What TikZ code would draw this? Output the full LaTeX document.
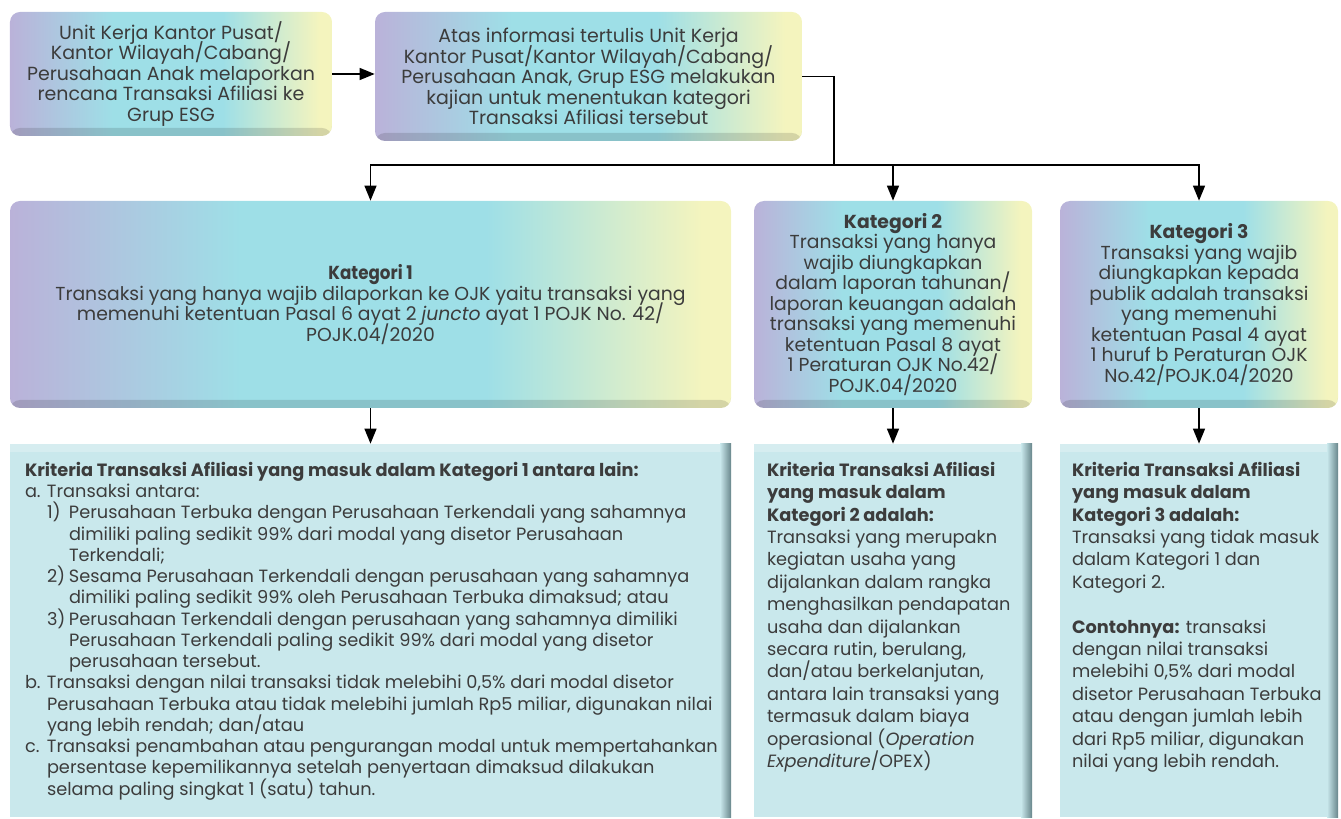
\documentclass[tikz,border=0pt]{standalone}
\usepackage{fontspec}
\setmainfont{Poppins}
\newfontfamily\narrowfont[FakeStretch=0.89]{Poppins}
\usetikzlibrary{
    arrows.meta,
    positioning,
    calc
}
\definecolor{esgpurple}{RGB}{186, 178, 217}
\definecolor{esgcyan}{RGB}{158, 223, 231}
\definecolor{esgyellow}{RGB}{244, 244, 190}
\definecolor{critfill}{RGB}{201, 232, 236}
\definecolor{critedge}{RGB}{104, 134, 139}
\definecolor{textgray}{RGB}{60, 60, 60}
\pgfdeclarehorizontalshading{esgshade}{100bp}{
    color(0bp)=(esgpurple); color(25bp)=(esgpurple); color(41bp)=(esgcyan);
    color(58bp)=(esgcyan); color(73bp)=(esgyellow); color(100bp)=(esgyellow)}
\newcommand{\critlbl}[1]{\makebox[0.44cm][l]{#1}}
\newcommand{\critind}{\hspace*{0.44cm}}
\lineskiplimit=-20pt

\begin{document}
\begin{tikzpicture}[
        font=\fontsize{10.8}{11.67}\selectfont,
        text=textgray,
        katbox/.style={rounded corners=0.2cm, shading=esgshade, align=center, inner sep=0pt,
            path picture={\fill[black, opacity=0.13] (path picture bounding box.south west)
                rectangle ([yshift=0.16cm]path picture bounding box.south east);}},
        critbox/.style={fill=critfill, inner sep=0pt,
            path picture={
                \fill[white, opacity=0.25] (path picture bounding box.north west)
                    rectangle ([yshift=-0.16cm]path picture bounding box.north east);
                \shade[left color=critfill, right color=critedge]
                    ([xshift=-0.22cm]path picture bounding box.north east)
                    rectangle (path picture bounding box.south east);}},
        crittext/.style={anchor=north west, align=left, inner sep=0pt},
        arrow/.style={-{Triangle[width=0.24cm, length=0.3cm]}, line width=0.75pt, draw=black}
    ]
        \useasboundingbox (0,0) rectangle (26.82,16.36);

        % Reporting flow
        \node[katbox, minimum width=6.44cm, minimum height=2.48cm] (lapor) at (3.42,14.88)
            {Unit Kerja Kantor Pusat/\\Kantor Wilayah/Cabang/\\Perusahaan Anak melaporkan\\rencana Transaksi Afiliasi ke\\Grup ESG};
        \node[katbox, minimum width=8.54cm, minimum height=2.58cm] (kajian) at (11.77,14.83)
            {Atas informasi tertulis Unit Kerja\\Kantor Pusat/Kantor Wilayah/Cabang/\\Perusahaan Anak, Grup ESG melakukan\\kajian untuk menentukan kategori\\Transaksi Afiliasi tersebut};

        % Categories
        \node[katbox, minimum width=14.42cm, minimum height=4.14cm, font=\fontsize{10.7}{11.67}\selectfont] (kat1) at (7.41,10.27)
            {\narrowfont\textbf{Kategori 1}\\Transaksi yang hanya wajib dilaporkan ke OJK yaitu transaksi yang\\memenuhi ketentuan Pasal 6 ayat 2 \textit{juncto} ayat 1 POJK No. 42/\\POJK.04/2020};
        \node[katbox, minimum width=5.56cm, minimum height=4.14cm, font=\fontsize{10.7}{11.67}\selectfont] (kat2) at (17.86,10.27)
            {\textbf{Kategori 2}\\Transaksi yang hanya\\wajib diungkapkan\\dalam laporan tahunan/\\laporan keuangan adalah\\transaksi yang memenuhi\\ketentuan Pasal 8 ayat\\1 Peraturan OJK No.42/\\POJK.04/2020};
        \node[katbox, minimum width=5.56cm, minimum height=4.14cm, font=\fontsize{10.7}{11.67}\selectfont] (kat3) at (23.98,10.27)
            {\textbf{Kategori 3}\\Transaksi yang wajib\\diungkapkan kepada\\publik adalah transaksi\\yang memenuhi\\ketentuan Pasal 4 ayat\\1 huruf b Peraturan OJK\\No.42/POJK.04/2020};

        % Criteria panels
        \node[critbox, minimum width=14.42cm, minimum height=7.46cm] (krit1) at (7.41,3.75) {};
        \node[critbox, minimum width=5.56cm, minimum height=7.46cm] (krit2) at (17.86,3.75) {};
        \node[critbox, minimum width=5.56cm, minimum height=7.46cm] (krit3) at (23.98,3.75) {};

        \node[crittext, font=\fontsize{10.1}{12.1}\selectfont] (krit1txt) at ([xshift=0.3cm, yshift=-0.36cm]krit1.north west)
            {\textbf{Kriteria Transaksi Afiliasi yang masuk dalam Kategori 1 antara lain:}\\
             \critlbl{a.}Transaksi antara:\\
             \critind\critlbl{1)}Perusahaan Terbuka dengan Perusahaan Terkendali yang sahamnya\\
             \critind\critind dimiliki paling sedikit 99\% dari modal yang disetor Perusahaan\\
             \critind\critind Terkendali;\\
             \critind\critlbl{2)}Sesama Perusahaan Terkendali dengan perusahaan yang sahamnya\\
             \critind\critind dimiliki paling sedikit 99\% oleh Perusahaan Terbuka dimaksud; atau\\
             \critind\critlbl{3)}Perusahaan Terkendali dengan perusahaan yang sahamnya dimiliki\\
             \critind\critind Perusahaan Terkendali paling sedikit 99\% dari modal yang disetor\\
             \critind\critind perusahaan tersebut.\\
             \critlbl{b.}Transaksi dengan nilai transaksi tidak melebihi 0,5\% dari modal disetor\\
             \critind Perusahaan Terbuka atau tidak melebihi jumlah Rp5 miliar, digunakan nilai\\
             \critind yang lebih rendah; dan/atau\\
             \critlbl{c.}Transaksi penambahan atau pengurangan modal untuk mempertahankan\\
             \critind persentase kepemilikannya setelah penyertaan dimaksud dilakukan\\
             \critind selama paling singkat 1 (satu) tahun.};
        \node[crittext, font=\fontsize{10.1}{12.75}\selectfont] (krit2txt) at ([xshift=0.26cm, yshift=-0.36cm]krit2.north west)
            {\textbf{Kriteria Transaksi Afiliasi}\\\textbf{yang masuk dalam}\\\textbf{Kategori 2 adalah:}\\
             Transaksi yang merupakn\\kegiatan usaha yang\\dijalankan dalam rangka\\menghasilkan pendapatan\\usaha dan dijalankan\\secara rutin, berulang,\\dan/atau berkelanjutan,\\antara lain transaksi yang\\termasuk dalam biaya\\operasional (\textit{Operation}\\\textit{Expenditure}/OPEX)};
        \node[crittext, font=\fontsize{10.1}{12.75}\selectfont] (krit3txt) at ([xshift=0.24cm, yshift=-0.36cm]krit3.north west)
            {\textbf{Kriteria Transaksi Afiliasi}\\\textbf{yang masuk dalam}\\\textbf{Kategori 3 adalah:}\\
             Transaksi yang tidak masuk\\dalam Kategori 1 dan\\Kategori 2.\\[12.75pt]
             \textbf{Contohnya:} transaksi\\dengan nilai transaksi\\melebihi 0,5\% dari modal\\disetor Perusahaan Terbuka\\atau dengan jumlah lebih\\dari Rp5 miliar, digunakan\\nilai yang lebih rendah.};

        % Connectors
        \coordinate (cabang) at (16.68,13.06);
        \draw[arrow] (lapor.east) -- (lapor.east -| kajian.west);
        \draw[line width=0.75pt] (kajian.east) -| (cabang);
        \foreach \k in {kat1, kat2, kat3} {
            \draw[arrow] (cabang) -| (\k.north);
        }
        \foreach \k/\c in {kat1/krit1, kat2/krit2, kat3/krit3} {
            \draw[arrow] (\k.south) -- (\c.north);
        }
    \end{tikzpicture}
\end{document}
